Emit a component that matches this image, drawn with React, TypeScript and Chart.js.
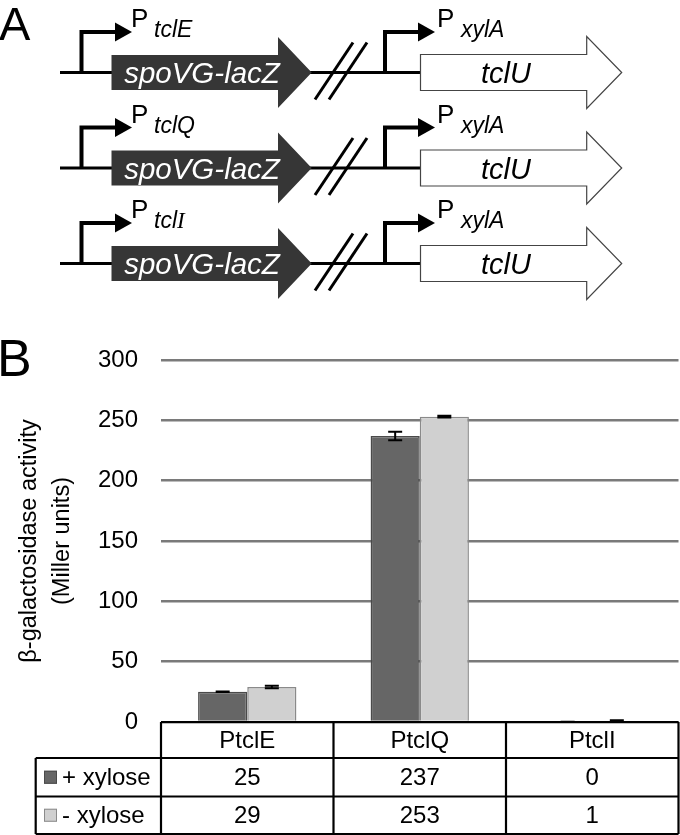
import React, { useEffect, useRef } from 'react';
import { Chart, registerables } from 'chart.js';

Chart.register(...registerables);

const categories = ['PtclE', 'PtclQ', 'PtclI'];
const seriesNames = ['+ xylose', '- xylose'];
const plusXylose = [25, 237, 0];
const minusXylose = [29, 253, 1];
const plusXyloseErr = [0.2, 3.6, 0.3];
const minusXyloseErr = [1.1, 0.7, 0.4];
const seriesColors = ['#666666', '#d0d0d0'];
const seriesBorders = ['#4a4a4a', '#8a8a8a'];
const yMin = 0;
const yMax = 300;
const yStep = 50;
const yTitle = ['β-galactosidase activity', '(Miller units)'];
const promoterSubs = ['tclE', 'tclQ', 'tclI'];

const FONT = "'Liberation Sans', Arial, Helvetica, sans-serif";

const errorBarPlugin = {
  id: 'errorBars',
  afterDatasetsDraw(chart: any) {
    const { ctx, scales } = chart;
    const errs = [plusXyloseErr, minusXyloseErr];
    ctx.save();
    ctx.strokeStyle = '#000';
    ctx.lineWidth = 2;
    chart.data.datasets.forEach((ds: any, di: number) => {
      const meta = chart.getDatasetMeta(di);
      meta.data.forEach((bar: any, j: number) => {
        const v = ds.data[j];
        const e = errs[di][j];
        const yTop = scales.y.getPixelForValue(v + e);
        const yBot = scales.y.getPixelForValue(Math.max(0, v - e));
        const x = bar.x;
        ctx.beginPath();
        ctx.moveTo(x, yTop);
        ctx.lineTo(x, yBot);
        ctx.moveTo(x - 7, yTop);
        ctx.lineTo(x + 7, yTop);
        ctx.moveTo(x - 7, yBot);
        ctx.lineTo(x + 7, yBot);
        ctx.stroke();
      });
    });
    ctx.restore();
  },
};

const tablePlugin = {
  id: 'dataTable',
  afterDraw(chart: any) {
    const { ctx, chartArea, scales } = chart;
    const xs = scales.x;
    const left = chartArea.left;
    const right = chartArea.right;
    const top = chartArea.bottom;
    const y1 = top + 36;
    const y2 = y1 + 38.5;
    const y3 = y2 + 37.5;
    const tableLeft = 35.7;
    const centers = categories.map((_, i) => xs.getPixelForValue(i));
    const bounds = [left];
    for (let i = 0; i < centers.length - 1; i++) bounds.push((centers[i] + centers[i + 1]) / 2);
    bounds.push(right);

    ctx.save();
    ctx.strokeStyle = '#000';
    ctx.lineWidth = 2.2;
    ctx.beginPath();
    ctx.moveTo(left, top);
    ctx.lineTo(right, top);
    [y1, y2, y3].forEach((yy) => {
      ctx.moveTo(tableLeft, yy);
      ctx.lineTo(right, yy);
    });
    ctx.moveTo(tableLeft, y1);
    ctx.lineTo(tableLeft, y3);
    bounds.forEach((bx) => {
      ctx.moveTo(bx, top);
      ctx.lineTo(bx, y3);
    });
    ctx.stroke();

    ctx.fillStyle = '#000';
    ctx.font = `24px ${FONT}`;
    ctx.textAlign = 'center';
    ctx.textBaseline = 'middle';
    const hMid = (top + y1) / 2 + 1;
    categories.forEach((c, i) => ctx.fillText(c, centers[i], hMid));
    const rowsData = [plusXylose, minusXylose];
    const rowMids = [(y1 + y2) / 2 + 1, (y2 + y3) / 2 + 1];
    rowsData.forEach((arr, r) => {
      arr.forEach((v, i) => ctx.fillText(String(v), centers[i], rowMids[r]));
    });
    seriesNames.forEach((name, r) => {
      const my = rowMids[r] - 1;
      ctx.fillStyle = seriesColors[r];
      ctx.fillRect(44, my - 6.5, 13, 13);
      ctx.strokeStyle = seriesBorders[r];
      ctx.lineWidth = 1;
      ctx.strokeRect(44.5, my - 6, 12, 12);
      ctx.fillStyle = '#000';
      ctx.textAlign = 'left';
      ctx.fillText(name, 62, rowMids[r]);
    });
    ctx.restore();
  },
};

function PanelA() {
  const rows = [72.5, 168, 263.5];
  return (
    <svg
      width={680}
      height={835}
      style={{ position: 'absolute', left: 0, top: 0, pointerEvents: 'none' }}
      fontFamily={FONT}
    >
      <text x={-1} y={40} fontSize={47} fill="#000">A</text>
      <text x={-3} y={376} fontSize={52} fill="#000">B</text>
      {rows.map((y0, i) => (
        <g key={i}>
          <line x1={60} y1={y0} x2={421} y2={y0} stroke="#000" strokeWidth={3} />
          <polyline
            points={`81.5,${y0} 81.5,${y0 - 40.5} 118,${y0 - 40.5}`}
            fill="none"
            stroke="#000"
            strokeWidth={4}
          />
          <polygon points={`115,${y0 - 50} 132,${y0 - 40.5} 115,${y0 - 31}`} fill="#000" />
          <text x={131} y={y0 - 45.5} fontSize={26} fill="#000">P</text>
          <text x={154} y={y0 - 35.5} fontSize={23} fontStyle="italic" fill="#000">
            {i === 2 ? (
              <>
                tcl<tspan fontFamily="'Liberation Serif', serif">I</tspan>
              </>
            ) : (
              promoterSubs[i]
            )}
          </text>
          <polygon
            points={`111.5,${y0 - 17.5} 278,${y0 - 17.5} 278,${y0 - 35.5} 311.7,${y0} 278,${y0 + 35.5} 278,${y0 + 17.5} 111.5,${y0 + 17.5}`}
            fill="#363636"
          />
          <text x={202} y={y0 + 10.5} fontSize={29.5} fontStyle="italic" fill="#fff" textAnchor="middle">
            spoVG-lacZ
          </text>
          <line x1={315} y1={y0 + 27} x2={353} y2={y0 - 30} stroke="#000" strokeWidth={3} />
          <line x1={329} y1={y0 + 27} x2={367} y2={y0 - 30} stroke="#000" strokeWidth={3} />
          <polyline
            points={`385,${y0} 385,${y0 - 40.5} 421,${y0 - 40.5}`}
            fill="none"
            stroke="#000"
            strokeWidth={4}
          />
          <polygon points={`418,${y0 - 50} 435,${y0 - 40.5} 418,${y0 - 31}`} fill="#000" />
          <text x={437} y={y0 - 45.5} fontSize={26} fill="#000">P</text>
          <text x={461} y={y0 - 35.5} fontSize={23} fontStyle="italic" fill="#000">xylA</text>
          <polygon
            points={`420.5,${y0 - 18} 586.7,${y0 - 18} 586.7,${y0 - 36} 621.7,${y0} 586.7,${y0 + 36} 586.7,${y0 + 18} 420.5,${y0 + 18}`}
            fill="#fff"
            stroke="#444"
            strokeWidth={1.2}
          />
          <text x={506} y={y0 + 10.5} fontSize={29} fontStyle="italic" fill="#000" textAnchor="middle">
            tclU
          </text>
        </g>
      ))}
    </svg>
  );
}

export default function App() {
  const canvasRef = useRef<HTMLCanvasElement | null>(null);

  useEffect(() => {
    if (!canvasRef.current) return;
    const chart = new Chart(canvasRef.current, {
      type: 'bar',
      data: {
        labels: categories,
        datasets: [
          {
            label: seriesNames[0],
            data: plusXylose,
            backgroundColor: seriesColors[0],
            borderColor: seriesBorders[0],
            borderWidth: 1.5,
          },
          {
            label: seriesNames[1],
            data: minusXylose,
            backgroundColor: seriesColors[1],
            borderColor: seriesBorders[1],
            borderWidth: 1.5,
          },
        ],
      },
      options: {
        responsive: false,
        animation: false,
        devicePixelRatio: 1,
        layout: { padding: { top: 360, bottom: 113, left: 0, right: 1.5 } },
        plugins: {
          legend: { display: false },
          tooltip: { enabled: false },
        },
        datasets: {
          bar: { categoryPercentage: 0.57, barPercentage: 1.0 },
        },
        scales: {
          x: { display: false },
          y: {
            min: yMin,
            max: yMax,
            afterFit: (scale: any) => {
              scale.width = 161;
            },
            ticks: {
              stepSize: yStep,
              padding: 23,
              color: '#000',
              font: { family: FONT, size: 24 },
            },
            grid: {
              color: '#7a7a7a',
              lineWidth: 2.5,
              drawTicks: false,
            },
            border: { display: false },
            title: {
              display: true,
              text: yTitle,
              color: '#000',
              font: { family: FONT, size: 23.5, lineHeight: 1.41 },
              padding: { top: 13, bottom: 0 },
            },
          },
        },
      },
      plugins: [errorBarPlugin, tablePlugin],
    });
    return () => chart.destroy();
  }, []);

  return (
    <div style={{ position: 'absolute', left: 0, top: 0, width: 680, height: 835, background: '#fff' }}>
      <canvas ref={canvasRef} width={680} height={835} style={{ width: 680, height: 835, display: 'block' }} />
      <PanelA />
    </div>
  );
}
